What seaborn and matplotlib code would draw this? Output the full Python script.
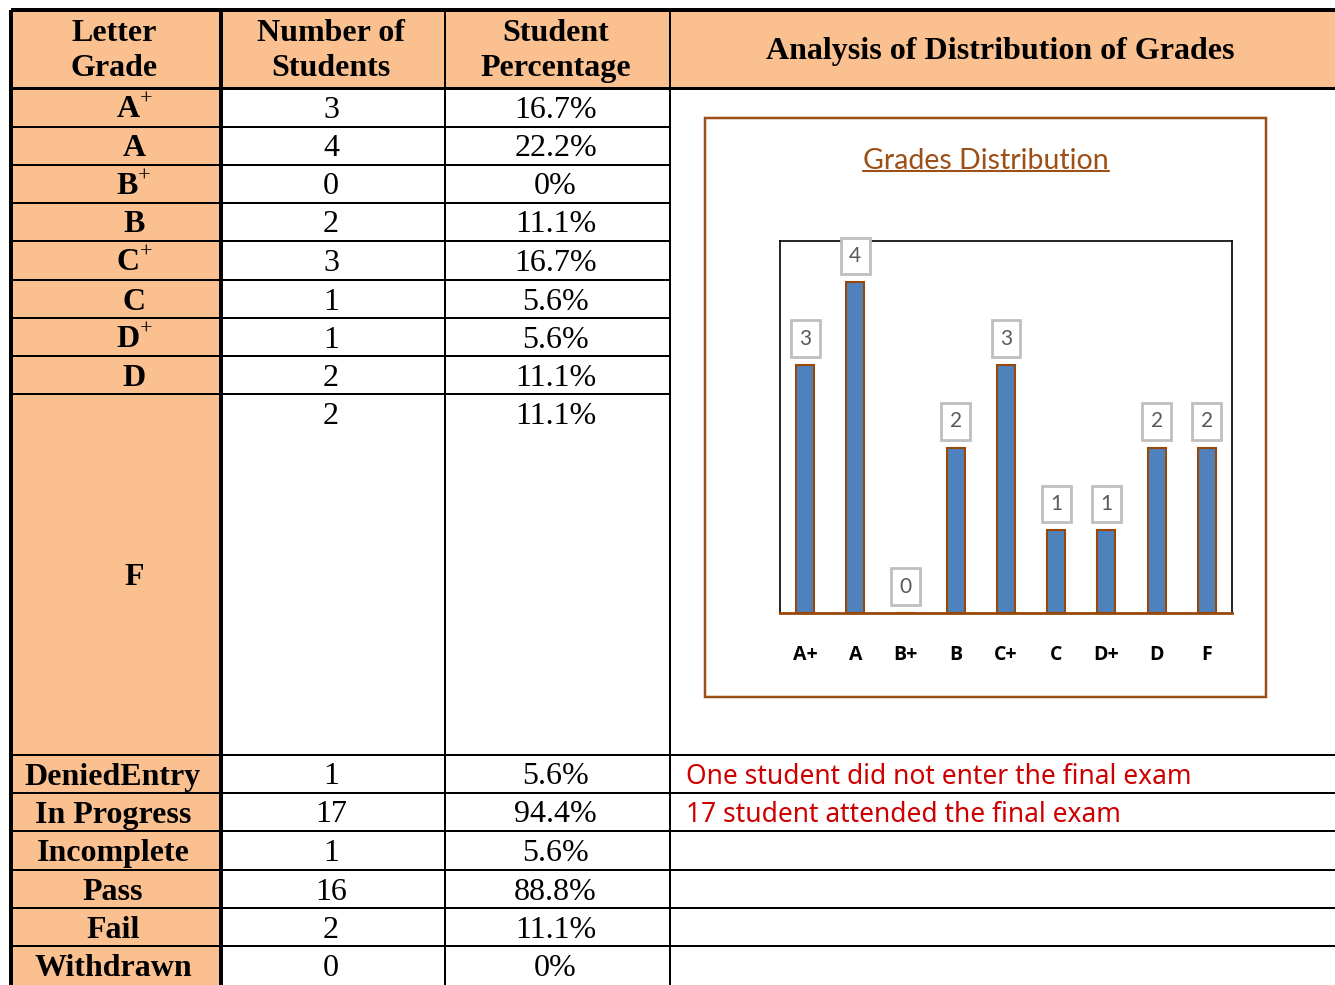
import numpy as np
import pandas as pd
import matplotlib
matplotlib.use('Agg')
import matplotlib.pyplot as plt
import seaborn as sns
from matplotlib.patches import Rectangle

# table content
grades = ['A+', 'A', 'B+', 'B', 'C+', 'C', 'D+', 'D', 'F']
grade_counts = [3, 4, 0, 2, 3, 1, 1, 2, 2]
grade_pcts = ['16.7%', '22.2%', '0%', '11.1%', '16.7%', '5.6%', '5.6%', '11.1%', '11.1%']
status = ['DeniedEntry', 'In Progress', 'Incomplete', 'Pass', 'Fail', 'Withdrawn']
status_counts = [1, 17, 1, 16, 2, 0]
status_pcts = ['5.6%', '94.4%', '5.6%', '88.8%', '11.1%', '0%']
notes = ['One student did not enter the final exam', '17 student attended the final exam', '', '', '', '']
headers = ['Letter\nGrade', 'Number of\nStudents', 'Student\nPercentage', 'Analysis of Distribution of Grades']

sns.set_theme(style='white')
plt.rcParams['text.color'] = 'black'
plt.rcParams['mathtext.fontset'] = 'custom'
plt.rcParams['mathtext.rm'] = 'Liberation Serif'
plt.rcParams['mathtext.bf'] = 'Liberation Serif:bold'

W, H = 1335, 985
fig = plt.figure(figsize=(W / 100, H / 100), dpi=100)
bg = fig.add_axes([0, 0, 1, 1])
bg.set_xlim(0, W)
bg.set_ylim(H, 0)
bg.axis('off')

orange = '#FAC090'
brown = '#9C4F16'
serif = 'Liberation Serif'
fs = 23
col_x = [11, 221, 445, 670, W]
col_mid = [(col_x[i] + col_x[i + 1]) / 2 for i in range(4)]
head_top, head_bot = 10, 88
row_edges = [88, 127, 165, 203, 241, 280, 318, 356, 394, 755, 793, 831, 870, 908, 946, 985]
px = 0.72  # one pixel in points
dy = 3  # text sits a little low in its cell

# orange cells
bg.add_patch(Rectangle((col_x[0], head_top), W - col_x[0], head_bot - head_top, color=orange, lw=0))
bg.add_patch(Rectangle((col_x[0], head_bot), col_x[1] - col_x[0], H - head_bot, color=orange, lw=0))

# grid lines
bg.hlines(head_top, col_x[0], W, color='black', lw=4 * px)
bg.hlines(head_bot, col_x[0], W, color='black', lw=3 * px)
for y in row_edges[1:-1]:
    right = W if y >= 755 else col_x[3]
    bg.hlines(y, col_x[0], right, color='black', lw=2 * px)
bg.vlines(col_x[0], head_top, H, color='black', lw=4 * px)
bg.vlines(col_x[1], head_top, H, color='black', lw=4 * px)
bg.vlines(col_x[2], head_top, H, color='black', lw=2 * px)
bg.vlines(col_x[3], head_top, H, color='black', lw=2 * px)

# header text
hm = (head_top + head_bot) / 2
for i, h in enumerate(headers):
    bg.text(col_mid[i] - 2, hm + 2, h, ha='center', va='center', fontsize=fs,
            fontweight='bold', family=serif, linespacing=1.3)


def grade_label(g):
    if g.endswith('+'):
        return r'$\mathbf{%s}^{+}$' % g[0]
    return g


# grade rows
for i, g in enumerate(grades):
    top, bot = row_edges[i], row_edges[i + 1]
    mid = (top + bot) / 2
    bg.text(134, mid + dy, grade_label(g), ha='center', va='center', fontsize=fs,
            fontweight='bold', family=serif)
    ty = top + 19 if bot - top > 60 else mid
    bg.text(col_mid[1] - 2, ty + dy, str(grade_counts[i]), ha='center', va='center', fontsize=fs, family=serif)
    bg.text(col_mid[2] - 2, ty + dy, grade_pcts[i], ha='center', va='center', fontsize=fs, family=serif)

# status rows
for j, s in enumerate(status):
    i = len(grades) + j
    mid = (row_edges[i] + row_edges[i + 1]) / 2
    bg.text(113, mid + dy, s, ha='center', va='center', fontsize=fs, fontweight='bold', family=serif)
    bg.text(col_mid[1] - 2, mid + dy, str(status_counts[j]), ha='center', va='center', fontsize=fs, family=serif)
    bg.text(col_mid[2] - 2, mid + dy, status_pcts[j], ha='center', va='center', fontsize=fs, family=serif)
    if notes[j]:
        bg.text(686, mid + dy, notes[j], ha='left', va='center', fontsize=19, color='#CC0000', family='Noto Sans')

# chart frame and title
bg.add_patch(Rectangle((705, 118), 561, 579, fill=False, ec=brown, lw=2.5 * px))
title = bg.text(986, 161, 'Grades Distribution', ha='center', va='center', fontsize=20.5,
                color=brown, family='Lato')

# bar chart
ax = fig.add_axes([780 / W, 1 - 613 / H, 452 / W, 372 / H])
df = pd.DataFrame({'grade': grades, 'count': grade_counts})
sns.barplot(data=df, x='grade', y='count', color='#4F81BD', saturation=1, width=0.36,
            edgecolor='#984807', linewidth=1.5, ax=ax)
ax.set_xlim(-0.5, len(grades) - 0.5)
ax.set_ylim(0, 4.5)
ax.set_yticks([])
ax.set_xlabel('')
ax.set_ylabel('')
ax.tick_params(axis='x', length=0, pad=23)
for lab in ax.get_xticklabels():
    lab.set_fontweight('bold')
    lab.set_fontsize(14)
    lab.set_family('Open Sans')
    lab.set_color('black')
for side in ['left', 'top', 'right']:
    ax.spines[side].set_visible(True)
    ax.spines[side].set_color('black')
    ax.spines[side].set_linewidth(1.2)
ax.spines['bottom'].set_color('#984807')
ax.spines['bottom'].set_linewidth(2)
for i, v in enumerate(grade_counts):
    ax.annotate(str(v), (i, v), xytext=(0, 19), textcoords='offset points', ha='center', va='center',
                fontsize=15, color='#595959', family='Lato', annotation_clip=False,
                bbox=dict(boxstyle='square,pad=0.4', fc='white', ec='#BFBFBF', lw=2))

# underline the chart title
fig.canvas.draw()
bb = title.get_window_extent()
inv = bg.transData.inverted()
(x0, y0), (x1, y1) = inv.transform([[bb.x0, bb.y0], [bb.x1, bb.y1]])
bg.plot([x0, x1], [y0 - 3, y0 - 3], color=brown, lw=1.5)

fig.savefig('out.png', dpi=100)
